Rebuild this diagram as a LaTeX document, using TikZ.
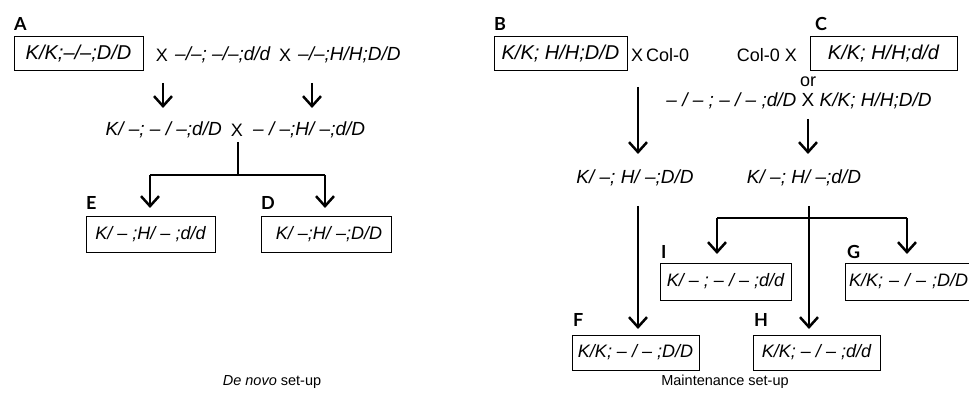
\documentclass[tikz,border=0pt]{standalone}
\usepackage{fontspec}
\setmainfont{Liberation Sans}
\newfontfamily\labfont{Lato}
\usetikzlibrary{arrows.meta}
\begin{document}
\begin{tikzpicture}[x=1pt,y=-1pt,
  txt/.style={font=\fontsize{19}{22}\selectfont\itshape, inner sep=0pt},
  up/.style={font=\fontsize{18}{21}\selectfont, inner sep=0pt},
  gbox/.style={draw, line width=1pt, inner sep=0pt, font=\fontsize{18}{21}\selectfont\itshape},
  gboxl/.style={gbox, font=\fontsize{20}{23}\selectfont\itshape},
  lab/.style={font=\labfont\bfseries\fontsize{18}{21}\selectfont, inner sep=0pt, anchor=west},
  captxt/.style={font=\fontsize{14.5}{17}\selectfont, inner sep=0pt},
  arr/.style={line width=2.5pt, -{Straight Barb[length=10pt,width=18pt]}},
  bar/.style={line width=2.5pt},
]
\clip (0,0) rectangle (969,406);
\fill[white] (0,0) rectangle (969,406);

% ---------- De novo set-up ----------
\node[lab] (labA) at (14,24) {A};
\node[gboxl, minimum width=129pt, minimum height=34pt] (boxA) at (78.5,54) {K/K;–/–;D/D};
\node[up] (xA1) at (162,55) {X};
\node[txt, anchor=west] (tA1) at (175,55) {–/–; –/–;d/d};
\node[up] (xA2) at (285,55) {X};
\node[txt, anchor=west] (tA2) at (298,55) {–/–;H/H;D/D};

\coordinate (a1s) at (163,83);  \coordinate (a1e) at (163,108);
\coordinate (a2s) at (312,83);  \coordinate (a2e) at (312,108);
\draw[arr] (a1s) -- (a1e);
\draw[arr] (a2s) -- (a2e);

\node[txt, anchor=east] (m1) at (222,130) {K/ –; – / –;d/D};
\node[up] (xM) at (237,130) {X};
\node[txt, anchor=west] (m2) at (253,130) {– / –;H/ –;d/D};

\coordinate (jA) at (238,175);
\coordinate (jE) at (150,175);
\coordinate (jD) at (325,175);
\coordinate (jT) at (238,142);
\draw[bar] (jT) -- (jA);
\draw[bar] (jE) -- (jD);
\draw[arr] (jE) -- (150,208);
\draw[arr] (jD) -- (325,208);

\node[lab] (labE) at (86,203) {E};
\node[gbox, minimum width=129pt, minimum height=35pt] (boxE) at (150.5,234.5) {K/ – ;H/ – ;d/d};
\node[lab] (labD) at (261,203) {D};
\node[gbox, minimum width=130pt, minimum height=35pt] (boxD) at (326,234.5) {\hspace{6pt}K/ –;H/ –;D/D};

\node[captxt] (cap1) at (272,382) {\textit{De novo} set-up};

% ---------- Maintenance set-up ----------
\node[lab] (labB) at (494,24) {B};
\node[gboxl, minimum width=133pt, minimum height=34pt] (boxB) at (560.5,54) {K/K; H/H;D/D};
\node[up, anchor=west] (xB) at (631,55) {X\,Col-0};
\node[up, anchor=east] (xC) at (797,55) {Col-0 X};
\node[lab] (labC) at (815,24) {C};
\node[gboxl, minimum width=147pt, minimum height=34pt] (boxC) at (883.5,54) {K/K; H/H;d/d};
\node[up] (orT) at (808,82) {or};
\node[txt] (alt) at (799,101) {– / – ; – / – ;d/D {\upshape X} K/K; H/H;D/D};

\coordinate (b1s) at (638,87);  \coordinate (b1e) at (638,154);
\coordinate (c1s) at (808,119); \coordinate (c1e) at (808,154);
\draw[arr] (b1s) -- (b1e);
\draw[arr] (c1s) -- (c1e);

\node[txt] (r1) at (635,178) {K/ –; H/ –;D/D};
\node[txt] (r2) at (804,178) {K/ –; H/ –;d/D};

\coordinate (f1s) at (638,206); \coordinate (f1e) at (638,329);
\coordinate (h1s) at (809,206); \coordinate (h1e) at (809,329);
\draw[arr] (f1s) -- (f1e);
\draw[arr] (h1s) -- (h1e);

\coordinate (jI) at (717,218);
\coordinate (jG) at (907,218);
\draw[bar] (jI) -- (jG);
\draw[arr] (jI) -- (717,254);
\draw[arr] (jG) -- (907,254);

\node[lab] (labI) at (661,252) {I};
\node[gbox, minimum width=131pt, minimum height=37pt] (boxI) at (725.5,281.5) {K/ – ; – / – ;d/d};
\node[lab] (labG) at (847,252) {G};
\node[gbox, minimum width=140pt, minimum height=37pt, text width=132pt, align=left] (boxG) at (915,281.5) {K/K; – / – ;D/D};

\node[lab] (labF) at (573,320) {F};
\node[gbox, minimum width=127pt, minimum height=35pt] (boxF) at (635.5,352.5) {K/K; – / – ;D/D};
\node[lab] (labH) at (754,320) {H};
\node[gbox, minimum width=127pt, minimum height=35pt] (boxH) at (816.5,352.5) {K/K; – / – ;d/d};

\node[captxt] (cap2) at (725,382) {Maintenance set-up};
\end{tikzpicture}
\end{document}
